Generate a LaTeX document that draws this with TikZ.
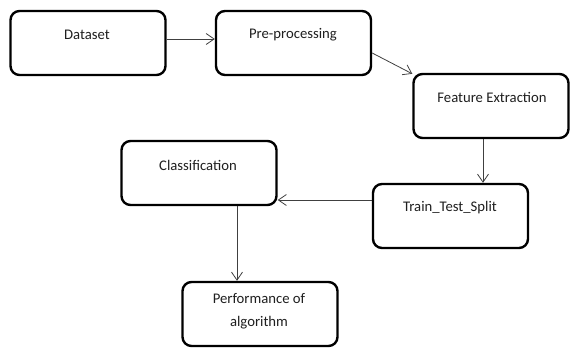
\documentclass[tikz,border=0pt]{standalone}
\usepackage{fontspec}
\setmainfont{Carlito}
\usetikzlibrary{arrows.meta,calc}
\begin{document}
\begin{tikzpicture}[x=1pt,y=-1pt,
  stagebox/.style={draw=black,line width=2.4pt,rounded corners=9pt,
    minimum width=155pt,minimum height=64pt,inner sep=0pt,fill=white},
  caption/.style={font=\fontsize{14.7pt}{23pt}\selectfont,text=black!88,
    align=center,inner sep=0pt},
  flow/.style={draw=black!75,line width=0.8pt,
    -{Straight Barb[length=8pt,width=11pt,line width=0.8pt]}}]
\useasboundingbox (0,0) rectangle (570,349);

% stage boxes
\node[stagebox] (ds) at (88,43) {};
\node[stagebox] (pre) at (293.5,43) {};
\node[stagebox] (fe) at (491,106) {};
\node[stagebox] (tr) at (450.5,216) {};
\node[stagebox] (cl) at (199,173) {};
\node[stagebox] (pf) at (260,314) {};

% stage labels, set in the upper part of each box
\node[caption] (dsT) at (87,35) {Dataset};
\node[caption] (preT) at (293,35) {Pre-processing};
\node[caption] (feT) at (492,97) {Feature Extraction};
\node[caption] (trT) at (450,208) {Train\_Test\_Split};
\node[caption] (clT) at (198,165) {Classification};
\node[caption] (pfT) at (259,311) {Performance of\\algorithm};

% connectors
\draw[flow] (ds.east |- 0,39) -- (pre.west |- 0,39);
\draw[flow] (pre.east |- 0,53) -- ($(fe.north west)+(0,1)$);
\draw[flow] (fe.south -| 483,0) -- (tr.north -| 483,0);
\draw[flow] (tr.west |- 0,200) -- (cl.east |- 0,200);
\draw[flow] (cl.south -| 237,0) -- (pf.north -| 237,0);
\end{tikzpicture}
\end{document}
